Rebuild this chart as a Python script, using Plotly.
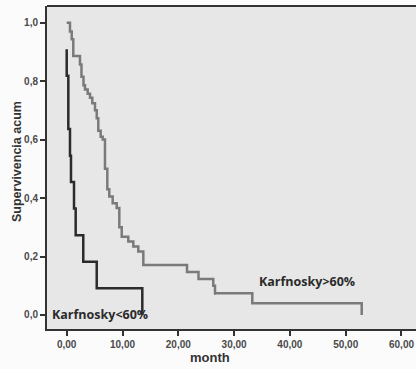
import plotly.graph_objects as go

# Karnofsky > 60% (gray curve): event times and survival after each step
t_hi = [0, 0.59, 0.90, 1.18, 2.38, 2.65, 3.01, 3.28, 3.76, 4.18, 4.59, 5.07, 5.38, 5.66,
        6.09, 6.45, 6.86, 7.28, 7.63, 8.24, 8.96, 9.43, 9.86, 11.04, 11.94, 12.83,
        13.73, 21.56, 23.62, 26.27, 26.58, 33.26, 52.87]
s_hi = [1.0, 0.97, 0.943, 0.886, 0.857, 0.815, 0.786, 0.771, 0.757, 0.743, 0.724, 0.70,
        0.673, 0.63, 0.61, 0.60, 0.50, 0.43, 0.405, 0.382, 0.366, 0.30, 0.268, 0.251,
        0.234, 0.217, 0.171, 0.147, 0.123, 0.10, 0.074, 0.04, 0.0]
censor_t = [26.6]
censor_s = [0.086]

# Karnofsky < 60% (black curve)
t_lo = [0, 0.0, 0.29, 0.59, 0.77, 1.31, 1.61, 2.97, 5.38, 13.55]
s_lo = [0.909, 0.818, 0.636, 0.545, 0.455, 0.364, 0.273, 0.182, 0.091, 0.0]

x_ticks = [0, 10, 20, 30, 40, 50, 60]
x_labels = ["0,00", "10,00", "20,00", "30,00", "40,00", "50,00", "60,00"]
y_ticks = [0, 0.2, 0.4, 0.6, 0.8, 1.0]
y_labels = ["0,0", "0,2", "0,4", "0,6", "0,8", "1,0"]

TF = dict(size=10, color="#4a4a4a", family="Liberation Sans, Arial", weight="bold")
LBL = dict(family="Open Sans, Liberation Sans", size=12.5, color="#2b2b2b", weight="bold")

fig = go.Figure()
fig.add_trace(go.Scatter(x=t_hi, y=s_hi, mode="lines", line=dict(shape="hv", color="#7a7a7a", width=2.5),
                         showlegend=False, hoverinfo="skip"))
fig.add_trace(go.Scatter(x=censor_t, y=censor_s, mode="markers",
                         marker=dict(symbol="line-ns", size=7, line=dict(color="#7a7a7a", width=1.5)),
                         showlegend=False, hoverinfo="skip"))
fig.add_trace(go.Scatter(x=t_lo, y=s_lo, mode="lines", line=dict(shape="hv", color="#2b2b2b", width=2.5),
                         showlegend=False, hoverinfo="skip"))

fig.add_annotation(x=43.1, y=0.113, text="Karfnosky&gt;60%", showarrow=False, font=LBL)
fig.add_annotation(x=6.0, y=0.0, text="Karfnosky&lt;60%", showarrow=False, font=LBL)

# axis titles placed in pixel-consistent paper coordinates
fig.add_annotation(xref="paper", yref="paper", x=(210 - 47) / 369, y=-(357 - 329) / 323,
                   text="month", showarrow=False, xanchor="center", yanchor="middle",
                   font=dict(size=13, color="#333333", family="Liberation Sans, Arial", weight="bold"))
fig.add_annotation(xref="paper", yref="paper", x=-(47 - 17) / 369, y=(329 - 162) / 323,
                   text="Supervivencia acum", showarrow=False, textangle=-90,
                   xanchor="center", yanchor="middle",
                   font=dict(size=12.5, color="#333333", family="Liberation Sans, Arial", weight="bold"))

fig.update_layout(
    width=416, height=369,
    margin=dict(l=47, r=0, t=6, b=40, autoexpand=False),
    paper_bgcolor="#fbfbfb",
    plot_bgcolor="#e7e7e7",
    xaxis=dict(range=[-3.53, 62.6], tickvals=x_ticks, ticktext=x_labels, automargin=False,
               showgrid=False, zeroline=False, ticks="outside", ticklen=5, tickwidth=1.5,
               tickcolor="#333333", showline=True, linecolor="#333333", linewidth=2,
               tickfont=TF),
    yaxis=dict(range=[-0.048, 1.057], tickvals=y_ticks, ticktext=y_labels, automargin=False,
               showgrid=False, zeroline=False, ticks="outside", ticklen=5, tickwidth=1.5,
               tickcolor="#333333", showline=True, linecolor="#333333", linewidth=2,
               tickfont=TF),
)
fig.add_shape(type="line", xref="paper", yref="paper", x0=0, x1=1, y0=1, y1=1,
              line=dict(color="#333333", width=2))

fig.write_html("out.html", config={"displayModeBar": False},
               post_script="document.body.style.margin='0';document.body.style.overflow='hidden';")
